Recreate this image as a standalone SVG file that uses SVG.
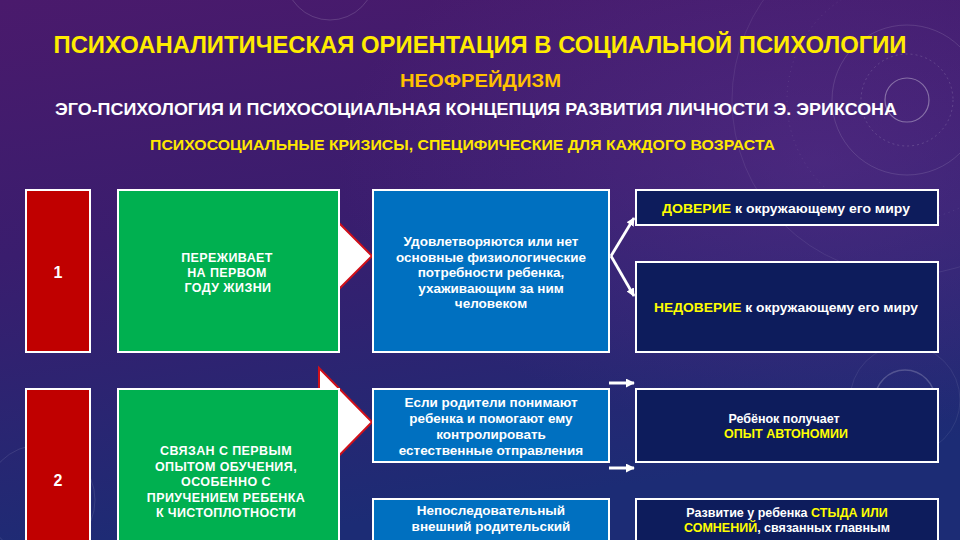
<svg xmlns="http://www.w3.org/2000/svg" width="960" height="540" viewBox="0 0 960 540">
<defs>
<linearGradient id="bg" x1="0" y1="0" x2="0.25" y2="1">
<stop offset="0" stop-color="#4a1a6c"/>
<stop offset="0.45" stop-color="#3a1d6e"/>
<stop offset="1" stop-color="#1c2c75"/>
</linearGradient>
<radialGradient id="glow" cx="0.85" cy="0.3" r="0.5">
<stop offset="0" stop-color="#6a3a9a" stop-opacity="0.35"/>
<stop offset="1" stop-color="#6a3a9a" stop-opacity="0"/>
</radialGradient>
<marker id="ah" viewBox="0 0 10 10" refX="9" refY="5" markerWidth="3" markerHeight="3" orient="auto" markerUnits="strokeWidth">
<path d="M0,0 L10,5 L0,10 z" fill="#ffffff"/>
</marker>
<style>
text{font-family:"Liberation Sans",Arial,sans-serif;font-weight:bold;}
.box{stroke:#ffffff;stroke-width:2;}
.red{fill:#c00000;}
.green{fill:#00b050;}
.blue{fill:#0070c0;}
.navy{fill:#0d1c5c;}
.num{font-size:16px;fill:#ffffff;text-anchor:middle;}
.gt{font-size:12.5px;fill:#ffffff;text-anchor:middle;letter-spacing:0.4px;}
.bt{font-size:13.5px;fill:#ffffff;text-anchor:middle;}
.dt{font-size:12.5px;fill:#ffffff;text-anchor:middle;}
.c{text-anchor:middle;}
.y{fill:#ffff00;}
.deco{fill:none;stroke:#ffffff;}
.arr{stroke:#ffffff;fill:none;marker-end:url(#ah);}
.blk{fill:#ffffff;stroke:#d0101a;stroke-width:2;stroke-linejoin:miter;}
</style>
</defs>

<rect x="0" y="0" width="960" height="540" fill="url(#bg)"/>
<rect x="0" y="0" width="960" height="540" fill="url(#glow)"/>

<g id="decor" class="deco">
<circle cx="907" cy="100" r="22" stroke-opacity="0.35" stroke-width="1.2"/>
<circle cx="907" cy="100" r="46" stroke-opacity="0.15" stroke-dasharray="2 3"/>
<circle cx="907" cy="100" r="75" stroke-opacity="0.12"/>
<circle cx="907" cy="100" r="120" stroke-opacity="0.1" stroke-dasharray="1 4"/>
<circle cx="907" cy="100" r="175" stroke-opacity="0.08"/>
<circle cx="330" cy="-25" r="45" stroke-opacity="0.15"/>
<circle cx="905" cy="400" r="30" stroke-opacity="0.2" stroke-width="1.5"/>
<circle cx="905" cy="400" r="55" stroke-opacity="0.08"/>
<circle cx="40" cy="500" r="55" stroke-opacity="0.1"/>
</g>

<g id="header">
<text x="480" y="53" class="c" font-size="23" fill="#ffec00" textLength="853" lengthAdjust="spacingAndGlyphs">ПСИХОАНАЛИТИЧЕСКАЯ ОРИЕНТАЦИЯ В СОЦИАЛЬНОЙ ПСИХОЛОГИИ</text>
<text x="480.5" y="87" class="c" font-size="18" fill="#ffc000" textLength="161" lengthAdjust="spacingAndGlyphs">НЕОФРЕЙДИЗМ</text>
<text x="476" y="115" class="c" font-size="17" fill="#ffffff" textLength="842" lengthAdjust="spacingAndGlyphs">ЭГО-ПСИХОЛОГИЯ И ПСИХОСОЦИАЛЬНАЯ КОНЦЕПЦИЯ РАЗВИТИЯ ЛИЧНОСТИ Э. ЭРИКСОНА</text>
<text x="462.5" y="150" class="c" font-size="15" fill="#ffe800" textLength="625" lengthAdjust="spacingAndGlyphs">ПСИХОСОЦИАЛЬНЫЕ КРИЗИСЫ, СПЕЦИФИЧЕСКИЕ ДЛЯ КАЖДОГО ВОЗРАСТА</text>
</g>

<g id="connectors">
<polygon class="blk" points="319,203 372,256 319,309"/>
<polygon class="blk" points="319,368 372,422 319,476"/>
<line class="arr" x1="611" y1="256" x2="634" y2="218" stroke-width="2.8"/>
<line class="arr" x1="611" y1="256" x2="634" y2="296" stroke-width="2.8"/>
<line class="arr" x1="609" y1="383" x2="634" y2="383" stroke-width="3"/>
<line class="arr" x1="609" y1="468" x2="634" y2="468" stroke-width="3"/>
</g>

<g id="stage1">
<rect class="box red" x="26" y="190" width="64" height="162"/>
<text class="num" x="58" y="278">1</text>
</g>

<g id="green1">
<rect class="box green" x="118" y="190" width="221" height="162"/>
<text class="gt" x="227" y="261.5">ПЕРЕЖИВАЕТ</text>
<text class="gt" x="227" y="276.5">НА ПЕРВОМ</text>
<text class="gt" x="228" y="291.5">ГОДУ ЖИЗНИ</text>
</g>

<g id="blue1">
<rect class="box blue" x="373" y="190" width="236" height="162"/>
<text class="bt" x="491" y="246">Удовлетворяются или нет</text>
<text class="bt" x="491" y="261.5">основные физиологические</text>
<text class="bt" x="491" y="277">потребности ребенка,</text>
<text class="bt" x="491" y="292.5">ухаживающим за ним</text>
<text class="bt" x="491" y="308">человеком</text>
</g>

<g id="trust">
<rect class="box navy" x="636" y="190" width="302" height="35"/>
<text class="dt" x="786" y="213" textLength="248" lengthAdjust="spacingAndGlyphs"><tspan class="y">ДОВЕРИЕ</tspan> к окружающему его миру</text>
</g>

<g id="mistrust">
<rect class="box navy" x="636" y="262" width="302" height="90"/>
<text class="dt" x="786" y="312" textLength="264" lengthAdjust="spacingAndGlyphs"><tspan class="y">НЕДОВЕРИЕ</tspan> к окружающему его миру</text>
</g>

<g id="stage2">
<rect class="box red" x="26" y="389" width="64" height="170"/>
<text class="num" x="58" y="486">2</text>
</g>

<g id="green2">
<rect class="box green" x="118" y="389" width="221" height="170"/>
<text class="gt" x="226" y="455">СВЯЗАН С ПЕРВЫМ</text>
<text class="gt" x="226" y="470.5">ОПЫТОМ ОБУЧЕНИЯ,</text>
<text class="gt" x="226" y="486">ОСОБЕННО С</text>
<text class="gt" x="226" y="501.5">ПРИУЧЕНИЕМ РЕБЕНКА</text>
<text class="gt" x="226" y="517">К ЧИСТОПЛОТНОСТИ</text>
</g>

<g id="blue2a">
<rect class="box blue" x="373" y="389" width="236" height="73"/>
<text class="bt" x="491" y="407">Если родители понимают</text>
<text class="bt" x="491" y="423">ребенка и помогают ему</text>
<text class="bt" x="491" y="439">контролировать</text>
<text class="bt" x="491" y="454.5">естественные отправления</text>
</g>

<g id="autonomy">
<rect class="box navy" x="636" y="389" width="302" height="73"/>
<text class="dt" x="784" y="423" font-size="13.5">Ребёнок получает</text>
<text class="dt y" x="786" y="438" font-size="13.5">ОПЫТ АВТОНОМИИ</text>
</g>

<g id="blue2b">
<rect class="box blue" x="373" y="499" width="236" height="60"/>
<text class="bt" x="491" y="515">Непоследовательный</text>
<text class="bt" x="491" y="531">внешний родительский</text>
</g>

<g id="shame">
<rect class="box navy" x="636" y="499" width="302" height="60"/>
<text class="dt" x="787" y="516.5" font-size="13.5">Развитие у ребенка <tspan class="y">СТЫДА ИЛИ</tspan></text>
<text class="dt" x="787" y="532" font-size="13.5"><tspan class="y">СОМНЕНИЙ</tspan>, связанных главным</text>
</g>
</svg>
